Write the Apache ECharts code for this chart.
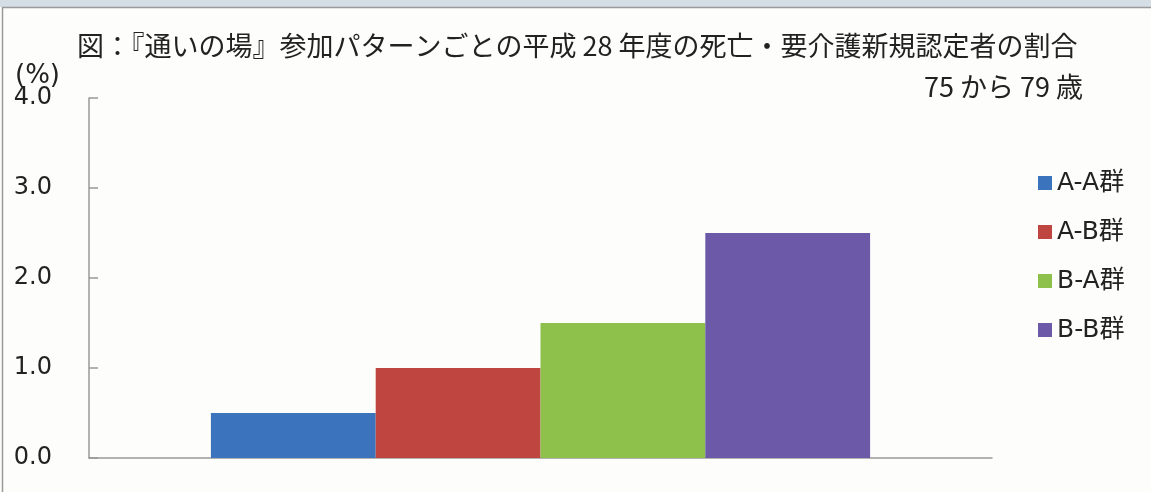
<!DOCTYPE html>
<html>
<head>
<meta charset="utf-8">
<script src="https://cdn.jsdelivr.net/npm/echarts@6/dist/echarts.min.js"></script>
<style>
  html, body { margin: 0; padding: 0; background: #fdfdfb; }
  #chart { width: 1151px; height: 492px; }
</style>
</head>
<body>
<div id="chart"></div>
<script>
// 参加パターン別の割合（%）
const categories = ['75から79歳'];
const groupNames = ['A-A群', 'A-B群', 'B-A群', 'B-B群'];
const groupValues = [0.5, 1.0, 1.5, 2.5];
const groupColors = ['#3b74bc', '#bf4540', '#8ec04c', '#6c5aa8'];
const yTicks = { min: 0, max: 4, interval: 1 };

const latinFont = '"DejaVu Sans", "Noto Sans CJK JP", sans-serif';
const jpFont = '"Noto Sans CJK JP", "DejaVu Sans", sans-serif';

const chart = echarts.init(document.getElementById('chart'));

const series = groupNames.map((name, i) => ({
  name: name,
  type: 'bar',
  data: [groupValues[i]],
  itemStyle: { color: groupColors[i] },
  barGap: '0%',
  barCategoryGap: '27%',
  emphasis: { disabled: true }
}));

chart.setOption({
  backgroundColor: '#fdfdfb',
  animation: false,
  title: [
    {
      text: '図：『通いの場』参加パターンごとの平成 28 年度の死亡・要介護新規認定者の割合',
      left: 72,
      top: 27,
      textStyle: { fontFamily: jpFont, fontSize: 27, fontWeight: 'normal', color: '#222' }
    },
    {
      text: '75 から 79 歳',
      right: 63,
      top: 68,
      textStyle: { fontFamily: jpFont, fontSize: 27, fontWeight: 'normal', color: '#222' }
    },
    {
      text: '(%)',
      left: 10,
      top: 58,
      textStyle: { fontFamily: latinFont, fontSize: 26, fontWeight: 'normal', color: '#222' }
    }
  ],
  legend: {
    orient: 'vertical',
    left: 1033,
    top: 165,
    icon: 'rect',
    itemWidth: 14,
    itemHeight: 14,
    itemGap: 23,
    data: groupNames,
    selectedMode: false,
    textStyle: { fontFamily: latinFont, fontSize: 25, color: '#222', lineHeight: 26 }
  },
  grid: { left: 89, right: 159, top: 98, bottom: 34, containLabel: false },
  xAxis: {
    type: 'category',
    data: categories,
    axisLine: { lineStyle: { color: '#999', width: 1.5 } },
    axisTick: { show: false },
    axisLabel: { show: false }
  },
  yAxis: {
    type: 'value',
    min: yTicks.min,
    max: yTicks.max,
    interval: yTicks.interval,
    axisLine: { show: true, lineStyle: { color: '#999', width: 1.5 } },
    axisTick: { show: true, inside: true, length: 9, lineStyle: { color: '#999', width: 1.5 } },
    splitLine: { show: false },
    axisLabel: {
      margin: 37,
      fontFamily: latinFont,
      fontSize: 24,
      color: '#222',
      formatter: v => v.toFixed(1)
    }
  },
  series: series,
  graphic: [
    { type: 'rect', shape: { x: 0, y: 0, width: 1151, height: 7 }, style: { fill: '#d6dee5' }, silent: true },
    { type: 'line', shape: { x1: 2, y1: 7.5, x2: 1151, y2: 7.5 }, style: { stroke: '#9a9a9a', lineWidth: 1.5 }, silent: true },
    { type: 'line', shape: { x1: 2.5, y1: 7, x2: 2.5, y2: 492 }, style: { stroke: '#9a9a9a', lineWidth: 1.5 }, silent: true }
  ]
});
</script>
</body>
</html>
